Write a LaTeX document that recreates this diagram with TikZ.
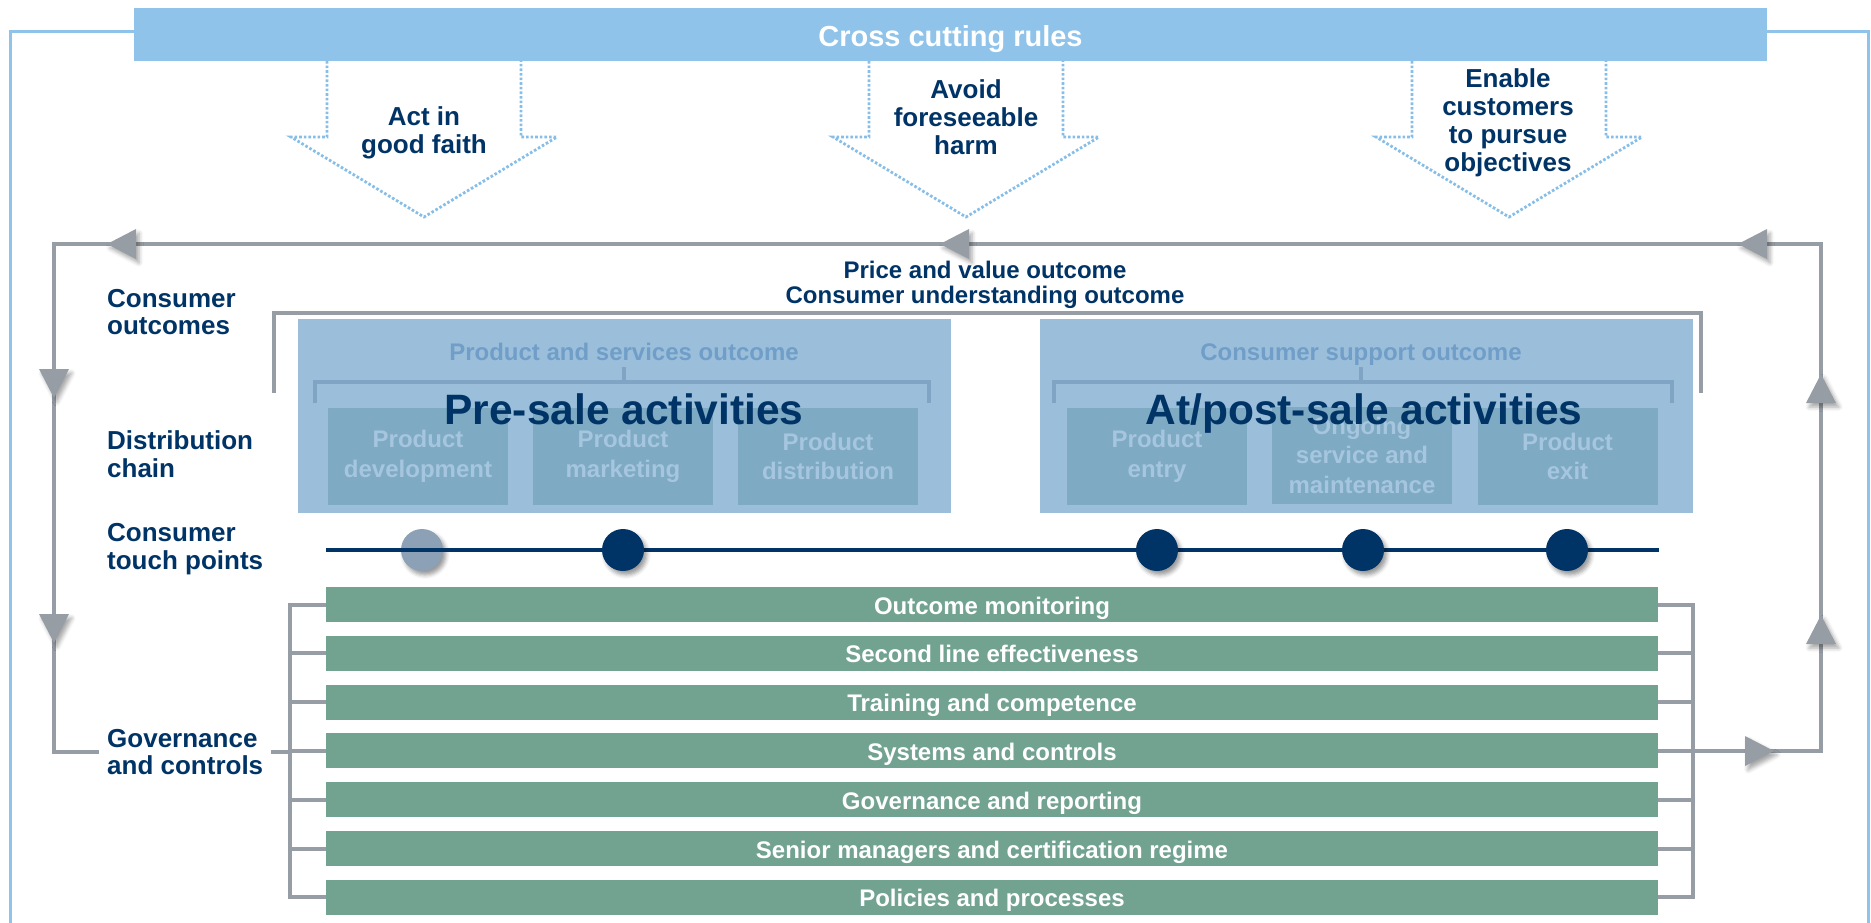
\documentclass[tikz,border=0pt]{standalone}
\usepackage{fontspec}
\setmainfont{Liberation Sans}
\usetikzlibrary{calc,shadows.blur}

\definecolor{navy}{RGB}{0,51,102}
\definecolor{skyband}{RGB}{143,195,234}
\definecolor{dotblue}{RGB}{135,190,232}
\definecolor{loopgrey}{RGB}{150,157,164}
\definecolor{stagefill}{RGB}{137,180,211}
\definecolor{stepfill}{RGB}{126,170,195}
\definecolor{steptext}{RGB}{165,198,222}
\definecolor{outcometext}{RGB}{112,158,200}
\definecolor{innerbracket}{RGB}{128,164,195}
\definecolor{ctrlgreen}{RGB}{114,163,145}
\definecolor{pointgrey}{RGB}{140,160,182}

\pgfdeclarelayer{shadowlayer}
\pgfdeclarelayer{linelayer}
\pgfsetlayers{shadowlayer,linelayer,main}

\newcommand\fs[2]{\fontsize{#1}{#2}\selectfont}

% dotted block arrow hanging from the rules band, centred at x = #1
\newcommand\ruledown[1]{%
  \draw[ruleflow] (#1-97,61) -- (#1-97,137) -- (#1-133,137) -- (#1,217)
    -- (#1+133,137) -- (#1+97,137) -- (#1+97,61);}

% grey arrowhead on the feedback loop: tip at (#1,#2), pointing at angle #3
\newcommand\loophead[3]{%
  \fill[loophead] (#1,#2) -- ($(#1,#2)+(#3+180:29)+(#3+90:15)$)
    -- ($(#1,#2)+(#3+180:29)+(#3-90:15)$) -- cycle;}

\begin{document}
\begin{tikzpicture}[x=1pt,y=-1pt,
  every node/.style={font=\bfseries},
  band/.style={fill=skyband, draw=none, minimum width=1633pt, minimum height=53pt,
    inner sep=0pt, text=white, font=\bfseries\fs{29}{30}, text height=23pt, text depth=0pt},
  frame/.style={draw=skyband, line width=3pt},
  ruleflow/.style={draw=dotblue, line width=2.8pt, dash pattern=on 2.6pt off 2pt},
  rulelabel/.style={text=navy, align=center, inner sep=0pt, font=\bfseries\fs{26}{28}},
  sidelabel/.style={text=navy, align=left, anchor=west, inner sep=8pt, font=\bfseries\fs{26}{27.5}},
  loopline/.style={draw=loopgrey, line width=4pt},
  loophead/.style={fill=loopgrey, blur shadow={shadow xshift=3pt, shadow yshift=-4pt,
    shadow blur radius=4pt, shadow opacity=35}},
  stagebox/.style={fill=stagefill, fill opacity=0.85, draw=none, minimum width=653pt,
    minimum height=194pt, inner sep=0pt},
  stepbox/.style={fill=stepfill, draw=none, text=steptext, align=center, inner sep=0pt,
    minimum width=180pt, minimum height=97pt, font=\bfseries\fs{24}{29.5}},
  outtext/.style={text=outcometext, anchor=base, inner sep=0pt, font=\bfseries\fs{24}{26}},
  innerbr/.style={draw=innerbracket, line width=4pt},
  stagetitle/.style={text=navy, anchor=base, inner sep=0pt, font=\bfseries\fs{42.5}{45}},
  touchline/.style={draw=navy, line width=4.5pt},
  point/.style={circle, minimum size=42pt, inner sep=0pt, draw=none,
    blur shadow={shadow xshift=3pt, shadow yshift=-4pt, shadow blur radius=4pt, shadow opacity=40}},
  ctrlbar/.style={fill=ctrlgreen, draw=none, text=white, minimum width=1332pt,
    minimum height=35pt, inner sep=0pt, font=\bfseries\fs{24}{26}, text height=19pt, text depth=0pt}
]
\useasboundingbox (0,0) rectangle (1871,922);

% ---- cross cutting rules band and outer frame ----
\node[band] (band) at (950.5,34.5) {Cross cutting rules};
\coordinate (frameSW) at (10,930);
\coordinate (frameSE) at (1868,930);
\draw[frame] ([yshift=3pt]band.west) -| (frameSW);
\draw[frame] ([yshift=3pt]band.east) -| (frameSE);

% ---- the three rules ----
\ruledown{424}
\ruledown{966}
\ruledown{1509}
\node[rulelabel] (rule1) at (424,133) {Act in\\good faith};
\node[rulelabel] (rule2) at (966,117) {Avoid\\foreseeable\\harm};
\node[rulelabel] (rule3) at (1508,123) {Enable\\customers\\to pursue\\objectives};

% ---- row labels ----
\node[sidelabel] (cc) at (99,312) {Consumer\\outcomes};
\node[sidelabel] (dc) at (99,454) {Distribution\\chain};
\node[sidelabel] (tp) at (99,549) {Consumer\\touch points};
\node[sidelabel] (gc) at (99,752) {Governance\\and controls};

\node[text=navy, align=center, inner sep=0pt, font=\bfseries\fs{24}{25.5}] (pv) at (985,285)
  {Price and value outcome\\Consumer understanding outcome};

% ---- consumer outcome bracket ----
\draw[loopline] (274,393) |- (1701,313) -- (1701,393);

% ---- activity stages ----
\node[stagebox] (pre)  at (624.5,416) {};
\node[stagebox] (post) at (1366,416) {};

\node[stepbox] (dev)     at (418,456.5)    {Product\\development};
\node[stepbox] (mkt)     at (623,456.5)    {Product\\marketing};
\node[stepbox] (dist)    at (828,456.5)    {Product\\distribution};
\node[stepbox] (entry)   at (1157,456.5)   {Product\\entry};
\node[stepbox] (service) at (1362,455)     {Ongoing\\service and\\maintenance};
\node[stepbox] (exit)    at (1567.5,456.5) {Product\\exit};

\begin{pgfonlayer}{shadowlayer}
  \foreach \b in {pre,post}
    \fill[white, blur shadow={shadow xshift=2pt, shadow yshift=-3pt,
      shadow blur radius=6pt, shadow opacity=30}] (\b.north west) rectangle (\b.south east);
\end{pgfonlayer}
\begin{pgfonlayer}{linelayer}
  \coordinate (chainStart) at (274,454);
  \draw[loopline] (chainStart) -- (exit.center |- chainStart);
\end{pgfonlayer}

\node[outtext] (psout) at (624,360) {Product and services outcome};
\node[outtext] (csout) at (1361,360) {Consumer support outcome};
\draw[innerbr] (315,403) |- (929,382) -- (929,403);
\draw[innerbr] (624,382) -- (624,367);
\draw[innerbr] (1054,403) |- (1672,382) -- (1672,403);
\draw[innerbr] (1361,382) -- (1361,367);

\node[stagetitle] (pretitle)  at (624,424)  {Pre-sale activities};
\node[stagetitle] (posttitle) at (1364,424) {At/post-sale activities};

% ---- consumer touch points ----
\coordinate (tpL) at (326,550);
\coordinate (tpR) at (1659,550);
\node[point, fill=pointgrey] (tp1) at (422,550) {};
\draw[touchline] (tpL) -- (tpR);
\node[point, fill=navy] (tp2) at (623,550) {};
\node[point, fill=navy] (tp3) at (1157,550) {};
\node[point, fill=navy] (tp4) at (1363,550) {};
\node[point, fill=navy] (tp5) at (1567,550) {};

% ---- governance and controls ----
\foreach \i/\t in {1/Outcome monitoring, 2/Second line effectiveness,
    3/Training and competence, 4/Systems and controls, 5/Governance and reporting,
    6/Senior managers and certification regime, 7/Policies and processes}
  \node[ctrlbar] (bar\i) at (992,{604.5+48.8*(\i-1)}) {\t};

\draw[loopline] (bar1.west) -- ++(-36,0) |- (bar7.west);
\draw[loopline] (bar1.east) -- ++(35,0) |- (bar7.east);
\foreach \i in {2,...,6} {
  \draw[loopline] (bar\i.west) -- ++(-36,0);
  \draw[loopline] (bar\i.east) -- ++(35,0);
}
\draw[loopline] (gc.east) -- ([xshift=-36pt]bar4.west |- gc.east);

% ---- feedback loop ----
\coordinate (loopNE) at (1821,244);
\coordinate (loopNW) at (54,244);
\draw[loopline] (bar4.east) -- (bar4.east -| loopNE) -- (loopNE) -- (loopNW)
  -- (loopNW |- gc.west) -- (gc.west);
\loophead{1774}{751}{0}
\loophead{1821}{615}{270}
\loophead{1821}{374}{270}
\loophead{1738}{244}{180}
\loophead{940}{244}{180}
\loophead{107}{244}{180}
\loophead{54}{398}{90}
\loophead{54}{643}{90}
\end{tikzpicture}
\end{document}
